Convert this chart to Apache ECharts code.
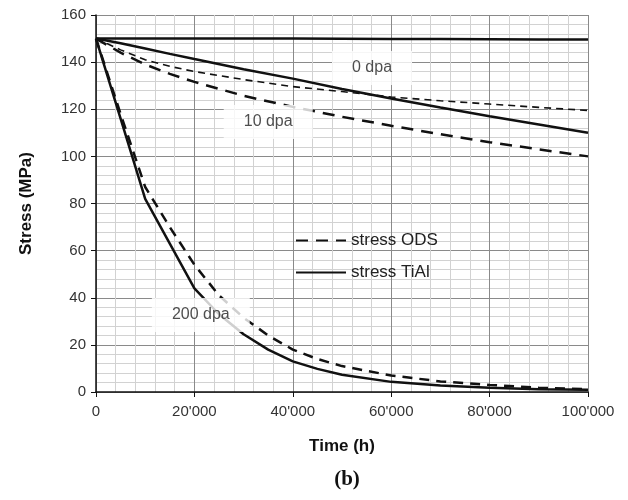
<!DOCTYPE html>
<html>
<head>
<meta charset="utf-8">
<script src="https://cdn.jsdelivr.net/npm/echarts@6/dist/echarts.min.js"></script>
<style>
  html, body { margin: 0; padding: 0; background: #fff; }
  #chart { width: 628px; height: 500px; }
</style>
</head>
<body>
<div id="chart"></div>
<script>
  // time steps (h)
  var timeA = [0, 5000, 10000, 15000, 20000, 30000, 40000, 50000, 60000, 70000, 80000, 90000, 100000];
  var timeB = [0, 5000, 10000, 15000, 20000, 25000, 30000, 35000, 40000, 45000, 50000, 60000, 70000, 80000, 90000, 100000];

  // stress (MPa)
  var odsThick = [150, 144, 139, 135, 131.6, 125.7, 121, 116.8, 113, 109.4, 106, 103, 100];
  var odsThin = [150, 145.2, 141, 138.2, 136, 132.6, 129.6, 127.5, 125.2, 123.6, 122.2, 120.8, 119.5];
  var tialFlat = [150, 150, 150, 150, 150, 150, 150, 149.9, 149.8, 149.8, 149.7, 149.6, 149.6];
  var tialMid = [150, 148, 145.8, 143.5, 141.3, 137, 133, 128.6, 124.6, 120.7, 117, 113.5, 110];
  var ods200 = [150, 118, 87, 70, 54, 41, 31.5, 24, 18, 14, 11, 7, 4.5, 3, 1.8, 1.2];
  var tial200 = [150, 116, 82, 63, 44, 33, 24.5, 18, 13, 9.8, 7.3, 4.3, 2.8, 1.8, 1.2, 1];

  // annotation labels
  var noteText = ['0 dpa', '10 dpa', '200 dpa'];
  var noteTime = [56100, 35000, 21300];
  var noteStress = [137.5, 114.6, 32.7];

  var xTicks = [0, 20000, 40000, 60000, 80000, 100000];

  function pairs(xs, ys) {
    return xs.map(function (x, i) { return [x, ys[i]]; });
  }

  function fmtThousands(v) {
    if (v === 0) return '0';
    var s = String(v);
    return s.slice(0, s.length - 3) + "'" + s.slice(s.length - 3);
  }

  function lineSeries(name, data, width, dash) {
    return {
      name: name,
      type: 'line',
      data: data,
      symbol: 'none',
      z: 3,
      color: '#111',
      lineStyle: { color: '#111', width: width, type: dash || 'solid' },
      emphasis: { disabled: true }
    };
  }

  var chart = echarts.init(document.getElementById('chart'));
  chart.setOption({
    animation: false,
    title: {
      text: '(b)',
      left: 342,
      top: 464,
      textAlign: 'center',
      textStyle: { fontFamily: 'Liberation Serif', fontWeight: 'bold', fontSize: 21, color: '#111' }
    },
    grid: { left: 96, right: 40, top: 15, bottom: 108 },
    legend: {
      data: ['stress ODS', 'stress TiAl'],
      orient: 'vertical',
      left: 290,
      top: 227,
      itemWidth: 50,
      itemHeight: 14,
      itemGap: 15,
      itemStyle: { color: 'rgba(0,0,0,0)', opacity: 0, borderWidth: 0 },
      textStyle: { fontFamily: 'Liberation Sans', fontSize: 17, color: '#222' }
    },
    xAxis: {
      type: 'value',
      min: 0,
      max: 100000,
      interval: 20000,
      name: 'Time (h)',
      nameLocation: 'middle',
      nameGap: 46,
      nameTextStyle: { fontFamily: 'Liberation Sans', fontWeight: 'bold', fontSize: 17, color: '#111' },
      axisLine: { lineStyle: { color: '#111', width: 1.5 } },
      axisTick: { show: true, length: 5, lineStyle: { color: '#111' } },
      axisLabel: {
        fontFamily: 'Liberation Sans', fontSize: 15, color: '#333', margin: 12,
        formatter: function (v) { return xTicks.indexOf(v) >= 0 ? fmtThousands(v) : ''; }
      },
      splitLine: { show: true, lineStyle: { color: '#8a8a8a', width: 1 } },
      minorTick: { show: false, splitNumber: 5 },
      minorSplitLine: { show: true, lineStyle: { color: '#d2d2d2', width: 1 } }
    },
    yAxis: {
      type: 'value',
      min: 0,
      max: 160,
      interval: 20,
      name: 'Stress (MPa)',
      nameLocation: 'middle',
      nameGap: 61,
      nameTextStyle: { fontFamily: 'Liberation Sans', fontWeight: 'bold', fontSize: 17, color: '#111' },
      axisLine: { show: true, lineStyle: { color: '#111', width: 1.5 } },
      axisTick: { show: true, length: 5, lineStyle: { color: '#111' } },
      axisLabel: { fontFamily: 'Liberation Sans', fontSize: 15, color: '#333', margin: 10 },
      splitLine: { show: true, lineStyle: { color: '#8a8a8a', width: 1 } },
      minorTick: { show: false, splitNumber: 5 },
      minorSplitLine: { show: true, lineStyle: { color: '#d2d2d2', width: 1 } }
    },
    series: [
      lineSeries('stress ODS', pairs(timeA, odsThick), 2.5, [12, 8]),
      lineSeries('stress TiAl', pairs(timeA, tialFlat), 2.5),
      lineSeries('stress ODS', pairs(timeA, odsThin), 1.6, [7, 5]),
      lineSeries('stress TiAl', pairs(timeA, tialMid), 2.5),
      lineSeries('stress ODS', pairs(timeB, ods200), 2.5, [10, 7]),
      lineSeries('stress TiAl', pairs(timeB, tial200), 2.5),
      {
        type: 'scatter',
        z: 10,
        silent: true,
        symbolSize: 1,
        itemStyle: { color: 'rgba(0,0,0,0)' },
        data: noteText.map(function (t, i) {
          return { name: t, value: [noteTime[i], noteStress[i]] };
        }),
        label: {
          show: true,
          position: 'inside',
          formatter: '{b}',
          backgroundColor: '#fff',
          padding: [9, 20],
          fontFamily: 'Liberation Sans',
          fontSize: 16,
          color: '#222'
        }
      }
    ]
  });
</script>
</body>
</html>
